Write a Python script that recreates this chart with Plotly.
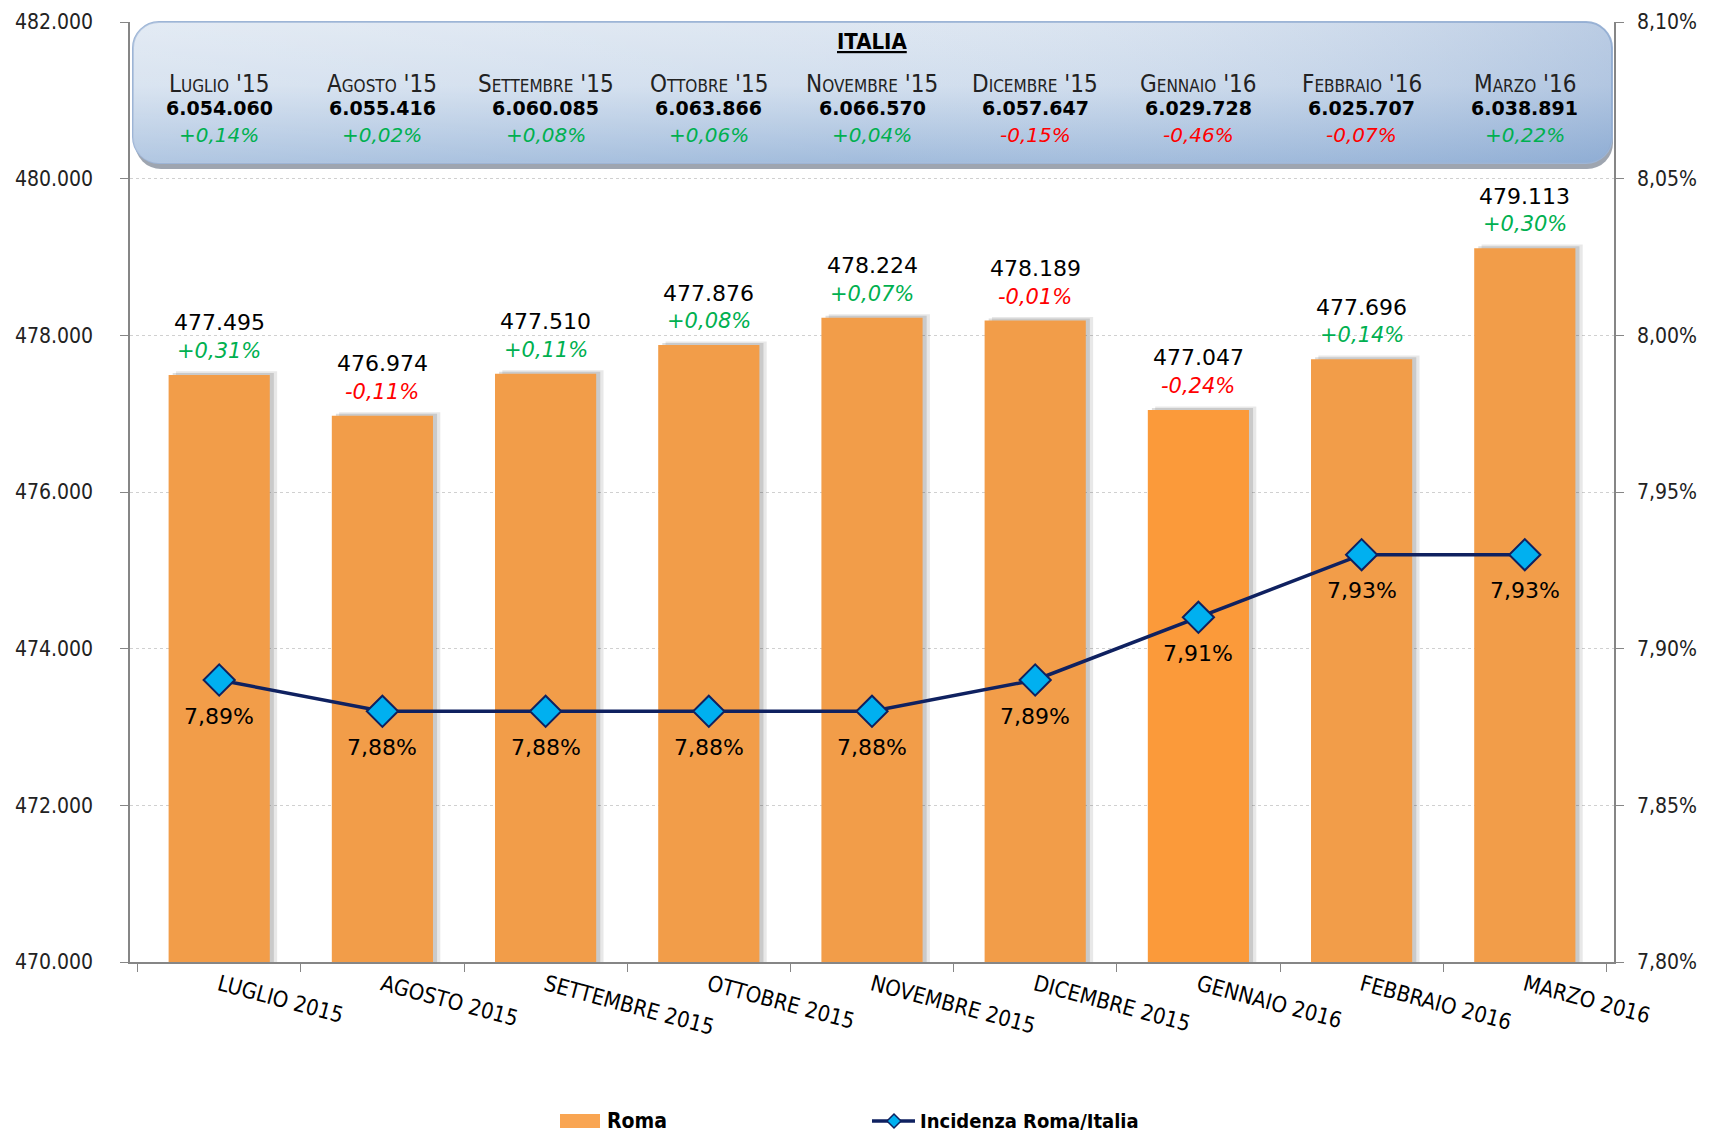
import base64
import plotly.graph_objects as go

# ---------------- data ----------------
categories = ["LUGLIO 2015", "AGOSTO 2015", "SETTEMBRE 2015", "OTTOBRE 2015", "NOVEMBRE 2015",
              "DICEMBRE 2015", "GENNAIO 2016", "FEBBRAIO 2016", "MARZO 2016"]
roma = [477495, 476974, 477510, 477876, 478224, 478189, 477047, 477696, 479113]
roma_var = [0.31, -0.11, 0.11, 0.08, 0.07, -0.01, -0.24, 0.14, 0.30]
incidenza = [7.89, 7.88, 7.88, 7.88, 7.88, 7.89, 7.91, 7.93, 7.93]
italia_months = ["Luglio '15", "Agosto '15", "Settembre '15", "Ottobre '15", "Novembre '15",
                 "Dicembre '15", "Gennaio '16", "Febbraio '16", "Marzo '16"]
italia = [6054060, 6055416, 6060085, 6063866, 6066570, 6057647, 6029728, 6025707, 6038891]
italia_var = [0.14, 0.02, 0.08, 0.06, 0.04, -0.15, -0.46, -0.07, 0.22]
legend_names = ["Roma", "Incidenza Roma/Italia"]

# ---------------- styling ----------------
W, H = 1711, 1134
ML, MR, MT, MB = 130, 97, 22, 172
PW, PH = W - ML - MR, H - MT - MB
COND = "DejaVu Sans Condensed, Liberation Sans Narrow, Arial Narrow, sans-serif"
SANS = "DejaVu Sans, Verdana, sans-serif"
GREEN, RED = "#00B050", "#FF0000"
BAR = "#F29D49"
BAR_HI = "#FB9A3A"
NAVY = "#0F2160"
CYAN = "#00B0F0"
BARW = 0.62


def fmt_int(v):
    return f"{v:,}".replace(",", ".")


def fmt_pct(v):
    return f"{v:+.2f}%".replace(".", ",")


def px_x(px):  # pixel x -> paper
    return (px - ML) / PW


def px_y(px):  # pixel y (from top) -> paper
    return ((MT + PH) - px) / PH


bar_colors = [BAR_HI if c.startswith("GENNAIO") else BAR for c in categories]

fig = go.Figure()

# soft shadows behind bars
for off, dy, col in [(0.045, 45, "rgba(0,0,0,0.09)"), (0.025, 25, "rgba(0,0,0,0.13)")]:
    fig.add_trace(go.Bar(x=categories, y=[v + dy for v in roma], width=BARW, offset=-BARW / 2 + off,
                         marker=dict(color=col, line=dict(width=0)), showlegend=False,
                         hoverinfo="skip", yaxis="y"))

fig.add_trace(go.Bar(x=categories, y=roma, width=BARW, offset=-BARW / 2, name=legend_names[0],
                     marker=dict(color=bar_colors, line=dict(width=0)), showlegend=False, yaxis="y"))

fig.add_trace(go.Scatter(x=categories, y=incidenza, name=legend_names[1], mode="lines+markers",
                         line=dict(color=NAVY, width=3.5),
                         marker=dict(symbol="diamond", size=24, color=CYAN,
                                     line=dict(color=NAVY, width=2)),
                         showlegend=False, yaxis="y2"))

ann = []
# bar labels
for c, v, p in zip(categories, roma, roma_var):
    ann.append(dict(x=c, y=v, xref="x", yref="y", text=fmt_int(v), showarrow=False, yshift=52,
                    yanchor="middle", font=dict(family=SANS, size=22, color="black")))
    ann.append(dict(x=c, y=v, xref="x", yref="y", text=f"<i>{fmt_pct(p)}</i>", showarrow=False, yshift=24,
                    yanchor="middle", font=dict(family=SANS, size=21, color=GREEN if p >= 0 else RED)))
# line labels
for c, v in zip(categories, incidenza):
    ann.append(dict(x=c, y=v, xref="x", yref="y2", text=f"{v:.2f}%".replace(".", ","), showarrow=False,
                    yshift=-36, yanchor="middle", font=dict(family=SANS, size=22, color="black")))
# header box text
ann.append(dict(x=0.5, y=px_y(41), xref="paper", yref="paper", text="<b>ITALIA</b>", showarrow=False,
                yanchor="middle", font=dict(family=COND, size=22, color="black", lineposition="under")))
for c, m, v, p in zip(categories, italia_months, italia, italia_var):
    ann.append(dict(x=c, y=px_y(84), xref="x", yref="paper", text=m, showarrow=False, yanchor="middle",
                    font=dict(family=COND, size=24, color="#222", variant="small-caps")))
    ann.append(dict(x=c, y=px_y(108), xref="x", yref="paper", text=f"<b>{fmt_int(v)}</b>", showarrow=False,
                    yanchor="middle", font=dict(family=SANS, size=19, color="black")))
    ann.append(dict(x=c, y=px_y(135), xref="x", yref="paper", text=f"<i>{fmt_pct(p)}</i>", showarrow=False,
                    yanchor="middle", font=dict(family=SANS, size=20, color=GREEN if p >= 0 else RED)))

# custom legend (text as annotations, symbols as shapes)
LEG_Y = 1121
ann.append(dict(x=px_x(605), y=px_y(LEG_Y), xref="paper", yref="paper", text=f"<b>{legend_names[0]}</b>",
                showarrow=False, xanchor="left", yanchor="middle",
                font=dict(family=COND, size=21, color="black")))
ann.append(dict(x=px_x(918), y=px_y(LEG_Y), xref="paper", yref="paper", text=f"<b>{legend_names[1]}</b>",
                showarrow=False, xanchor="left", yanchor="middle",
                font=dict(family=COND, size=20, color="black")))
dx, dy = 7 / PW, 7 / PH
cx, cy = px_x(894), px_y(LEG_Y)
shapes = [
    dict(type="rect", xref="paper", yref="paper", x0=px_x(560), x1=px_x(600), y0=px_y(1128), y1=px_y(1114),
         fillcolor="#F9A552", line=dict(width=0)),
    dict(type="line", xref="paper", yref="paper", x0=px_x(872), x1=px_x(915), y0=cy, y1=cy,
         line=dict(color=NAVY, width=3.5)),
    dict(type="path", xref="paper", yref="paper",
         path=f"M {cx - dx} {cy} L {cx} {cy + dy} L {cx + dx} {cy} L {cx} {cy - dy} Z",
         fillcolor=CYAN, line=dict(color=NAVY, width=1.5)),
]

# header box as an svg gradient image
bx0, bx1, by0, by1 = 132, 1614, 21, 170
bw, bh = bx1 - bx0, by1 - by0
svg = f"""<svg xmlns='http://www.w3.org/2000/svg' width='{bw}' height='{bh}' viewBox='0 0 {bw} {bh}'>
<defs>
<linearGradient id='g' x1='0' y1='0' x2='0' y2='1'>
<stop offset='0' stop-color='#DAE4F0'/><stop offset='0.45' stop-color='#CDDBEC'/><stop offset='1' stop-color='#97B4D8'/>
</linearGradient>
<linearGradient id='h' x1='0' y1='0' x2='1' y2='0'>
<stop offset='0' stop-color='#FFFFFF' stop-opacity='0.25'/><stop offset='0.5' stop-color='#FFFFFF' stop-opacity='0.1'/>
<stop offset='1' stop-color='#7F9FCC' stop-opacity='0.35'/>
</linearGradient>
</defs>
<rect x='3' y='6' width='{bw-4}' height='{bh-7}' rx='26' fill='#7D8796' opacity='0.75'/>
<rect x='1' y='1' width='{bw-3}' height='{bh-8}' rx='26' fill='url(#g)' stroke='#9DB5D6' stroke-width='2'/>
<rect x='1' y='1' width='{bw-3}' height='{bh-8}' rx='26' fill='url(#h)'/>
</svg>"""
src = "data:image/svg+xml;base64," + base64.b64encode(svg.encode()).decode()

fig.update_layout(
    width=W, height=H,
    margin=dict(l=ML, r=MR, t=MT, b=MB, autoexpand=False),
    paper_bgcolor="white", plot_bgcolor="white",
    separators=",.",
    barmode="overlay", bargap=0.38,
    annotations=ann,
    shapes=shapes,
    images=[dict(source=src, xref="paper", yref="paper", x=px_x(bx0), y=px_y(by0),
                 sizex=bw / PW, sizey=bh / PH, xanchor="left", yanchor="top",
                 sizing="stretch", layer="above")],
    xaxis=dict(type="category", tickson="boundaries", ticks="outside", ticklen=8, tickcolor="#868686",
               showline=True, linecolor="#868686", linewidth=1.5, tickangle=15, automargin=False,
               tickfont=dict(family=COND, size=22, color="black"), showgrid=False),
    yaxis=dict(range=[470000, 482000], dtick=2000, tickformat=",.0f", ticks="outside", ticklen=8,
               tickcolor="#868686", showline=True, linecolor="#868686", linewidth=1.5, automargin=False,
               gridcolor="#D0D0D0", griddash="dot", gridwidth=1, ticklabelstandoff=23,
               tickfont=dict(family=COND, size=21, color="#222"), zeroline=False),
    yaxis2=dict(range=[7.80, 8.10], dtick=0.05, tickformat=".2f", ticksuffix="%", overlaying="y",
                side="right", ticks="outside", ticklen=8, tickcolor="#868686", showline=True,
                linecolor="#868686", linewidth=1.5, showgrid=False, zeroline=False, automargin=False,
                ticklabelstandoff=9,
                tickfont=dict(family=COND, size=21, color="#222")),
    showlegend=False,
)

fig.write_html("out.html", config={"displayModeBar": False},
               post_script="document.body.style.margin='0';")
